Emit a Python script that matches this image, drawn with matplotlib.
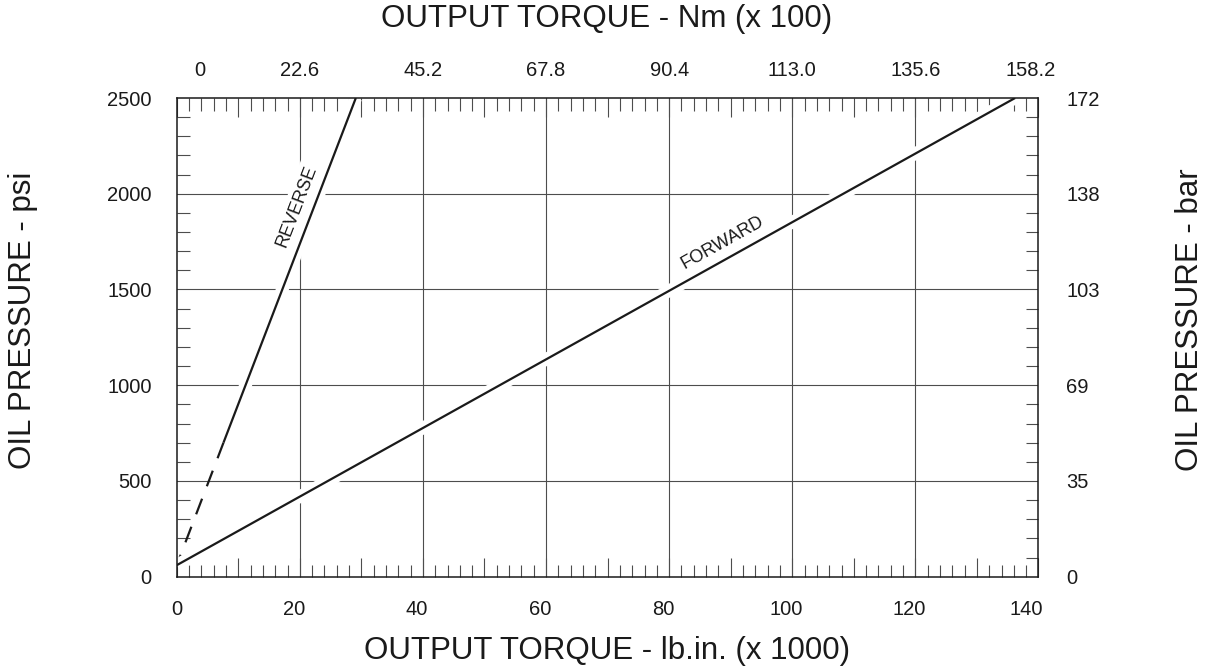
import math
import matplotlib
matplotlib.use('Agg')
import matplotlib.pyplot as plt
import matplotlib.patheffects as pe
from matplotlib.ticker import MultipleLocator
from matplotlib.transforms import ScaledTranslation

plt.rcParams['font.family'] = ['Liberation Sans', 'DejaVu Sans']

# axis values
torque_ticks = [0, 20, 40, 60, 80, 100, 120, 140]
torque_nm_labels = ['0', '22.6', '45.2', '67.8', '90.4', '113.0', '135.6', '158.2']
psi_ticks = [0, 500, 1000, 1500, 2000, 2500]
bar_labels = ['0', '35', '69', '103', '138', '172']

# curves (torque lb.in x1000 vs oil pressure psi)
forward_x = [0, 136.2]
forward_y = [60, 2500]
reverse_x = [0, 7.6, 29.1]
reverse_y = [60, 700, 2500]

ink = '#1a1a1a'
grid_col = '#4d4d4d'

fig = plt.figure(figsize=(12.15, 6.69), dpi=100)
ax = fig.add_axes([176.7 / 1215, 1 - 576.7 / 669, (1038.5 - 176.7) / 1215, (576.7 - 98) / 669])
ax.set_xlim(0, 140)
ax.set_ylim(0, 2500)

# twins for the bar / Nm scales (made first, they reset tick sides of ax)
axr = ax.twinx()
axr.set_ylim(0, 2500)
axr.set_yticks(psi_ticks, bar_labels)
axr.tick_params(length=0, labelsize=14.5, pad=20, labelcolor=ink)

axt = ax.twiny()
axt.set_xlim(0, 140)
axt.set_xticks(torque_ticks, torque_nm_labels)
axt.tick_params(length=0, labelsize=14.5, pad=13, labelcolor=ink)
for a in (axr, axt):
    for s in a.spines.values():
        s.set_visible(False)

# grid drawn by hand so the curves can knock it out
for v in torque_ticks[1:-1]:
    ax.axvline(v, color=grid_col, lw=0.8, zorder=1)
for h in psi_ticks[1:-1]:
    ax.axhline(h, color=grid_col, lw=0.8, zorder=1)

halo = [pe.Stroke(linewidth=9, foreground='white'), pe.Normal()]
ax.plot(reverse_x[1:], reverse_y[1:], color=ink, lw=1.6, zorder=2,
        solid_capstyle='butt', path_effects=halo)
ax.plot(reverse_x[:2][::-1], reverse_y[:2][::-1], color=ink, lw=1.6, zorder=2,
        linestyle=(0, (7.5, 6)))
ax.plot(forward_x, forward_y, color=ink, lw=1.6, zorder=2,
        solid_capstyle='butt', path_effects=halo)


def line_angle(xs, ys):
    p1 = ax.transData.transform((xs[0], ys[0]))
    p2 = ax.transData.transform((xs[-1], ys[-1]))
    return math.degrees(math.atan2(p2[1] - p1[1], p2[0] - p1[0]))


box = dict(facecolor='white', edgecolor='none', pad=3)
ax.text(19.5, 1933, 'REVERSE', rotation=line_angle(reverse_x, reverse_y),
        ha='center', va='center', fontsize=13, color=ink, bbox=box, zorder=3)
ax.text(88.6, 1745, 'FORWARD', rotation=line_angle(forward_x, forward_y),
        ha='center', va='center', fontsize=13, color=ink, bbox=box, zorder=3)

# ticks: major marks every 10 (labelled every 20), minor every 2
major_x = list(range(0, 141, 10))
major_x_labels = [str(v) if v in torque_ticks else '' for v in major_x]
ax.set_xticks(major_x, major_x_labels)
ax.xaxis.set_minor_locator(MultipleLocator(2))
ax.set_yticks(psi_ticks, [str(v) for v in psi_ticks])
ax.yaxis.set_minor_locator(MultipleLocator(100))

ax.tick_params(axis='x', which='major', direction='in', length=13.7, width=0.8,
               color=grid_col, top=True, bottom=True, labeltop=False, labelsize=14.5,
               pad=17, labelcolor=ink)
ax.tick_params(axis='x', which='minor', direction='in', length=9, width=0.8,
               color=grid_col, top=True, bottom=True)
ax.tick_params(axis='y', which='major', length=0, labelsize=14.5, pad=18,
               labelcolor=ink, labelright=False)
ax.tick_params(axis='y', which='minor', direction='in', length=9, width=0.8,
               color=grid_col, left=True, right=True)
for s in ax.spines.values():
    s.set_linewidth(1.1)
    s.set_color(ink)
    s.set_zorder(4)


def nudge(label, dx_px):
    label.set_transform(label.get_transform()
                        + ScaledTranslation(dx_px / 100, 0, fig.dpi_scale_trans))


# bottom numbers sit slightly left of their gridlines in the original
for v, tick in zip(major_x, ax.xaxis.get_major_ticks()):
    if v in torque_ticks and v != 0:
        nudge(tick.label1, -12 if v == 140 else -6)

# the end labels on top are pulled inward in the original
top_labels = axt.xaxis.get_majorticklabels()
nudge(top_labels[0], 23)
nudge(top_labels[-1], -8)

fig.text(607 / 1215, 1 - 19 / 669, 'OUTPUT TORQUE - Nm (x 100)', ha='center', va='center',
         fontsize=22.5, color=ink)
fig.text(607 / 1215, 1 - 651 / 669, 'OUTPUT TORQUE - lb.in. (x 1000)', ha='center', va='center',
         fontsize=22.5, color=ink)
fig.text(23 / 1215, 1 - 320 / 669, 'OIL PRESSURE - psi', rotation=90, ha='center', va='center',
         fontsize=22.5, color=ink)
fig.text(1190 / 1215, 1 - 320 / 669, 'OIL PRESSURE - bar', rotation=90, ha='center', va='center',
         fontsize=22.5, color=ink)

fig.savefig('out.png', dpi=100)
